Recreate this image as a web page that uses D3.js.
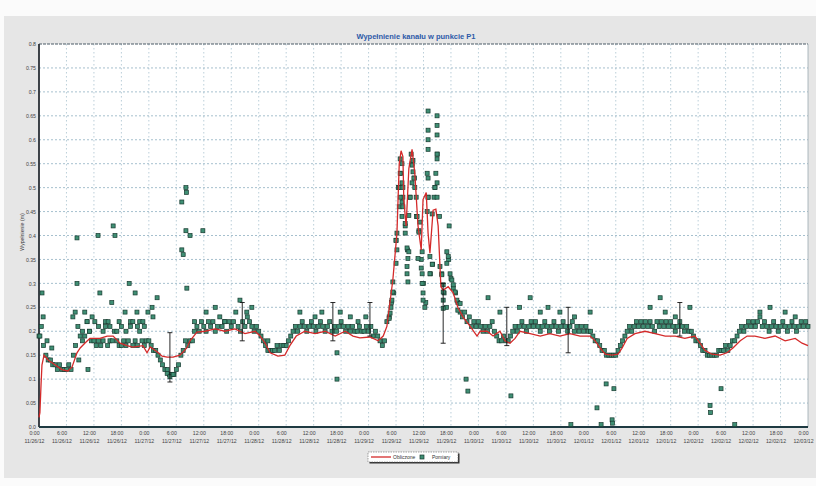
<!DOCTYPE html>
<html>
<head>
<meta charset="utf-8">
<script src="https://cdn.jsdelivr.net/npm/d3@7"></script>
<style>
  body { margin: 0; background: #fff; }
  svg { display: block; font-family: "Liberation Sans", Arial, sans-serif; }
</style>
</head>
<body>
<svg id="chart" width="816" height="486"></svg>
<script>
// time axis: 7 days, hours counted from the start
var startTime = new Date(2012, 10, 26, 0, 0);
var spanHours = 168;

var yTicks = [0, 0.05, 0.1, 0.15, 0.2, 0.25, 0.3, 0.35, 0.4, 0.45, 0.5, 0.55, 0.6, 0.65, 0.7, 0.75, 0.8];

// computed level ("Obliczone") - vertices, [hour, value]
var computed = [
  [0, 0.02], [0.2, 0.03], [0.45, 0.09], [0.65, 0.13], [1.1, 0.15], [2, 0.14], [3.5, 0.13], [5, 0.12],
  [6.3, 0.117], [7.2, 0.125], [8.3, 0.155], [9, 0.165], [10, 0.175], [11.1, 0.185], [13.3, 0.185],
  [14.9, 0.19], [16.2, 0.19], [17.7, 0.175], [19.2, 0.17], [20.5, 0.167], [22.7, 0.17], [23.6, 0.155],
  [24.3, 0.167], [25.8, 0.157], [26.9, 0.148], [28, 0.146], [29.3, 0.146], [30.8, 0.15], [32.3, 0.165],
  [33, 0.18], [34.5, 0.198], [36.3, 0.2], [38.5, 0.205], [40.6, 0.2], [42.8, 0.205], [45, 0.195],
  [47.2, 0.2], [48.3, 0.19], [49.4, 0.175], [50.5, 0.155], [52.2, 0.148], [53.7, 0.15], [54.8, 0.17],
  [56.2, 0.19], [58.1, 0.2], [60.3, 0.195], [62.5, 0.2], [64.7, 0.19], [66.9, 0.2], [68.6, 0.19],
  [70.1, 0.186], [72.3, 0.188], [74.1, 0.18], [75.2, 0.19], [76, 0.21], [77.3, 0.307], [78.2, 0.405],
  [78.7, 0.55], [79.1, 0.577], [79.5, 0.565], [79.7, 0.475], [80.2, 0.42], [80.8, 0.54], [81.5, 0.58],
  [82.1, 0.53], [82.8, 0.42], [83.5, 0.37], [83.9, 0.475], [84.6, 0.49], [85, 0.405], [85.4, 0.363],
  [86.1, 0.453], [86.7, 0.455], [87.2, 0.42], [87.8, 0.293], [88.3, 0.286], [89.4, 0.293], [90.5, 0.28],
  [91.5, 0.25], [92.6, 0.23], [94.2, 0.21], [95.7, 0.19], [96.4, 0.2], [97.9, 0.2], [99.2, 0.19],
  [100.7, 0.2], [101.8, 0.18], [102.9, 0.175], [104, 0.185], [105.1, 0.2], [107.3, 0.195], [109.5, 0.19],
  [111.6, 0.195], [113.8, 0.19], [116, 0.195], [118.2, 0.19], [120.4, 0.19], [121.5, 0.18], [122.6, 0.165],
  [123.7, 0.152], [125.2, 0.15], [126.5, 0.152], [127.4, 0.165], [128.5, 0.185], [130.2, 0.195],
  [132.4, 0.2], [134.6, 0.195], [136.8, 0.19], [139, 0.19], [141.1, 0.185], [143.3, 0.19], [144.4, 0.175],
  [145.5, 0.16], [147, 0.152], [148.8, 0.15], [150.3, 0.155], [151.6, 0.165], [153.2, 0.18], [154.7, 0.19],
  [156.4, 0.19], [158.6, 0.185], [160.8, 0.19], [163, 0.18], [165.2, 0.185], [166.7, 0.175], [168, 0.17]
];

// measured level ("Pomiary") - one reading every 30 minutes, one row = 6 hours
var measured = [
  0.19, 0.21, 0.17, 0.15, 0.14, 0.14, 0.13, 0.13, 0.12, 0.13, 0.12, 0.12,
  0.12, 0.13, 0.12, 0.15, 0.17, 0.21, 0.19, 0.18, 0.19, 0.22, 0.20, 0.18,
  0.18, 0.17, 0.18, 0.17, 0.18, 0.21, 0.17, 0.18, 0.18, 0.20, 0.18, 0.17,
  0.17, 0.18, 0.17, 0.18, 0.21, 0.17, 0.18, 0.17, 0.22, 0.18, 0.17, 0.18,
  0.18, 0.17, 0.16, 0.16, 0.15, 0.14, 0.13, 0.12, 0.12, 0.11, 0.11, 0.11,
  0.12, 0.13, 0.15, 0.16, 0.18, 0.17, 0.18, 0.18, 0.20, 0.21, 0.20, 0.22,
  0.21, 0.20, 0.22, 0.21, 0.22, 0.20, 0.21, 0.23, 0.21, 0.22, 0.20, 0.22,
  0.21, 0.22, 0.24, 0.21, 0.20, 0.22, 0.21, 0.23, 0.22, 0.21, 0.20, 0.21,
  0.20, 0.19, 0.18, 0.17, 0.16, 0.16, 0.16, 0.16, 0.17, 0.16, 0.17, 0.17,
  0.17, 0.18, 0.19, 0.20, 0.21, 0.20, 0.21, 0.22, 0.21, 0.20, 0.21, 0.22,
  0.21, 0.20, 0.21, 0.22, 0.21, 0.20, 0.21, 0.22, 0.20, 0.21, 0.20, 0.21,
  0.22, 0.21, 0.20, 0.21, 0.20, 0.21, 0.20, 0.20, 0.21, 0.20, 0.20, 0.21,
  0.20, 0.21, 0.19, 0.20, 0.19, 0.18, 0.17, 0.18, 0.22, 0.23, 0.26, 0.28,
  0.39, 0.50, 0.53, 0.48, 0.42, 0.37, 0.48, 0.55, 0.52, 0.44, 0.41, 0.35,
  0.30, 0.26, 0.48, 0.32, 0.34, 0.50, 0.57, 0.44, 0.32, 0.28, 0.25, 0.35,
  0.31, 0.29, 0.28, 0.26, 0.24, 0.23, 0.24, 0.22, 0.23, 0.21, 0.22, 0.21,
  0.22, 0.21, 0.20, 0.21, 0.20, 0.21, 0.22, 0.20, 0.19, 0.18, 0.18, 0.19,
  0.18, 0.18, 0.19, 0.20, 0.21, 0.20, 0.21, 0.22, 0.21, 0.20, 0.21, 0.22,
  0.21, 0.22, 0.21, 0.20, 0.21, 0.22, 0.21, 0.20, 0.21, 0.22, 0.21, 0.20,
  0.21, 0.22, 0.21, 0.20, 0.21, 0.22, 0.20, 0.21, 0.20, 0.21, 0.20, 0.21,
  0.20, 0.20, 0.19, 0.18, 0.18, 0.17, 0.16, 0.16, 0.15, 0.15, 0.15, 0.15,
  0.15, 0.16, 0.17, 0.18, 0.19, 0.20, 0.21, 0.20, 0.21, 0.22, 0.21, 0.22,
  0.21, 0.22, 0.21, 0.22, 0.21, 0.20, 0.22, 0.21, 0.22, 0.21, 0.22, 0.21,
  0.22, 0.21, 0.20, 0.21, 0.22, 0.21, 0.20, 0.21, 0.20, 0.20, 0.19, 0.18,
  0.18, 0.17, 0.16, 0.16, 0.15, 0.15, 0.15, 0.15, 0.15, 0.16, 0.16, 0.16,
  0.17, 0.16, 0.17, 0.18, 0.18, 0.19, 0.20, 0.21, 0.20, 0.21, 0.22, 0.21,
  0.22, 0.21, 0.22, 0.23, 0.21, 0.22, 0.21, 0.20, 0.21, 0.22, 0.21, 0.20,
  0.21, 0.22, 0.21, 0.20, 0.21, 0.22, 0.21, 0.20, 0.21, 0.22, 0.21, 0.22,
  0.21
];
var measuredStep = 0.5;

// extra measured readings (scatter and outliers), [hour, value]
var measuredExtra = [
  [0.2, 0.19], [0.66, 0.28], [0.9, 0.23], [1.75, 0.18], [2.8, 0.165],
  [7.4, 0.23], [7.9, 0.24], [8.3, 0.395], [8.3, 0.3], [8.7, 0.14], [9.5, 0.2], [10, 0.24], [10.5, 0.22],
  [10.7, 0.12], [11, 0.2], [11.6, 0.23], [12.2, 0.22], [12.9, 0.4], [13, 0.21], [13.3, 0.28], [14, 0.2],
  [14.5, 0.22], [15.1, 0.22], [15.5, 0.21], [15.9, 0.26], [16.2, 0.42], [16.6, 0.4], [17, 0.2], [17.5, 0.22],
  [18, 0.21], [18.8, 0.24], [19, 0.2], [19.7, 0.3], [20, 0.22], [20.5, 0.22], [21, 0.28], [21.4, 0.24],
  [21.5, 0.21], [22, 0.2], [22.7, 0.22], [23, 0.21], [23.8, 0.24], [24.7, 0.25], [24.9, 0.23], [25.8, 0.27],
  [28, 0.112], [28.6, 0.105], [29.3, 0.11],
  [31.2, 0.37], [31.2, 0.47], [32.1, 0.5], [32.2, 0.49], [32.1, 0.41], [33, 0.4], [32.3, 0.29], [31.5, 0.36],
  [35.8, 0.41], [34, 0.22],
  [36.5, 0.24], [38.5, 0.25], [40.6, 0.22], [43.9, 0.265], [45.4, 0.24], [46.5, 0.25], [50, 0.18],
  [57, 0.24], [60.3, 0.23], [61.8, 0.24], [65.1, 0.155], [65.1, 0.1], [65.8, 0.24], [68, 0.23], [69.7, 0.22],
  [71.4, 0.23],
  // first peak
  [76.5, 0.227], [76.7, 0.238], [76.9, 0.25], [77.1, 0.265], [77.3, 0.282], [77.3, 0.303], [78, 0.342],
  [78, 0.39], [78.2, 0.37], [78.2, 0.405], [78.7, 0.46], [78.7, 0.5], [78.9, 0.48], [78.9, 0.53], [78.9, 0.56],
  [79.3, 0.55], [79.3, 0.51], [79.3, 0.47], [79.3, 0.44], [79.5, 0.5], [79.5, 0.46], [80, 0.425], [80, 0.405],
  [80.4, 0.374], [80.4, 0.335], [80.4, 0.32], [80.6, 0.352], [80.6, 0.303],
  // second peak
  [80.8, 0.442], [80.8, 0.366], [81.1, 0.48], [81.3, 0.57], [81.5, 0.547], [81.5, 0.51], [81.7, 0.557],
  [81.7, 0.533], [81.9, 0.52], [82.1, 0.5], [82.4, 0.48], [82.6, 0.44], [82.8, 0.352], [83, 0.407],
  [83.2, 0.428], [83.5, 0.332], [83.7, 0.366], [83.7, 0.32], [83.7, 0.3], [83.9, 0.28], [83.9, 0.265],
  [84.3, 0.25],
  // highest readings
  [84.8, 0.53], [84.8, 0.45], [85, 0.66], [85, 0.62], [85, 0.6], [85, 0.58], [85, 0.52], [85, 0.48],
  [85.4, 0.356], [85.4, 0.32], [85.9, 0.445], [85.9, 0.34], [86.3, 0.48], [86.5, 0.5], [86.7, 0.53],
  [86.96, 0.65], [86.96, 0.63], [86.96, 0.61], [86.96, 0.57], [86.96, 0.56], [86.96, 0.51], [86.96, 0.48],
  [87.6, 0.335], [88, 0.318], [88.3, 0.297], [88.3, 0.282], [88.3, 0.265], [88.3, 0.248],
  [89.1, 0.366], [89.1, 0.342], [89.4, 0.356], [89.6, 0.42], [89.8, 0.32], [90.2, 0.307], [90.5, 0.297],
  [90.9, 0.282], [91.3, 0.265], [91.5, 0.244], [92, 0.258],
  // after the peak
  [93.3, 0.1], [93.7, 0.075], [98.1, 0.27], [100.7, 0.24], [103.1, 0.065], [105, 0.25], [107.3, 0.27],
  [109.5, 0.24], [111.2, 0.25], [113.8, 0.24], [116.2, 0.005], [117, 0.23], [120.4, 0.24], [121.9, 0.04],
  [122.8, 0.005], [123.9, 0.09], [125.2, 0.015], [125.3, 0.008], [125.6, 0.08],
  [133.5, 0.25], [135.7, 0.27], [136.8, 0.24], [139, 0.23], [142.2, 0.25],
  [146.6, 0.045], [146.7, 0.03], [149, 0.08], [152, 0.005],
  [157.5, 0.24], [159.7, 0.25], [163, 0.24], [165.2, 0.23]
];

// vertical error bars, [hour, low, high]
var errorBars = [
  [28.6, 0.094, 0.197], [44.4, 0.18, 0.26], [64.2, 0.18, 0.26], [72.3, 0.19, 0.26], [88.3, 0.175, 0.3],
  [102.2, 0.17, 0.25], [115.6, 0.155, 0.25], [140, 0.19, 0.26]
];

var titleText = "Wypełnienie kanału w punkcie P1";
var yTitle = "Wypełnienie (m)";
var legendLabels = ["Obliczone", "Pomiary"];

function hourDate(t) {
  return new Date(startTime.getTime() + t * 3600000);
}

var svg = d3.select("#chart");
var plotLeft = 39, plotRight = 808, plotTop = 44, plotBottom = 427;

var x = d3.scaleTime()
  .domain([startTime, hourDate(spanHours)])
  .range([plotLeft, plotRight]);
var y = d3.scaleLinear().domain([0, 0.8]).range([plotBottom, plotTop]);

// page background (scanned paper)
svg.append("rect").attr("width", 816).attr("height", 486).attr("fill", "#fbfbfb");
svg.append("rect").attr("x", 4).attr("y", 16).attr("width", 812).attr("height", 462).attr("fill", "#e6e6e6");

// plot area
svg.append("rect")
  .attr("x", plotLeft).attr("y", plotTop)
  .attr("width", plotRight - plotLeft).attr("height", plotBottom - plotTop)
  .attr("fill", "#fff");

// grid
var sixHours = x.ticks(d3.timeHour.every(6));
svg.append("g").selectAll("line")
  .data(sixHours.slice(1, -1))
  .join("line")
  .attr("x1", function(d) { return x(d); }).attr("x2", function(d) { return x(d); })
  .attr("y1", plotTop).attr("y2", plotBottom)
  .attr("stroke", "#a9c3cf").attr("stroke-width", 0.8).attr("stroke-dasharray", "1.5,2.5");

svg.append("g").selectAll("line")
  .data(yTicks.slice(1, -1))
  .join("line")
  .attr("x1", plotLeft).attr("x2", plotRight)
  .attr("y1", function(d) { return y(d); }).attr("y2", function(d) { return y(d); })
  .attr("stroke", "#8fb0c2").attr("stroke-width", 0.8).attr("stroke-dasharray", "2,2");

// border
svg.append("line").attr("x1", plotLeft).attr("x2", plotRight).attr("y1", plotTop).attr("y2", plotTop)
  .attr("stroke", "#4a5a66").attr("stroke-width", 1.2).attr("stroke-dasharray", "3,1");
svg.append("line").attr("x1", plotRight).attr("x2", plotRight).attr("y1", plotTop).attr("y2", plotBottom)
  .attr("stroke", "#9aa8b0").attr("stroke-width", 0.8);
svg.append("line").attr("x1", plotLeft).attr("x2", plotLeft).attr("y1", plotTop).attr("y2", plotBottom)
  .attr("stroke", "#2a2f36").attr("stroke-width", 1.8);
svg.append("line").attr("x1", plotLeft).attr("x2", plotRight).attr("y1", plotBottom).attr("y2", plotBottom)
  .attr("stroke", "#1e3a42").attr("stroke-width", 2);

// y axis labels
var yAxis = d3.axisLeft(y)
  .tickValues(yTicks)
  .tickSize(0)
  .tickPadding(3)
  .tickFormat(function(d) { return d === 0 ? "0.0" : String(d); });
var gy = svg.append("g").attr("transform", "translate(" + plotLeft + ",0)").call(yAxis);
gy.select(".domain").remove();
gy.selectAll("text").attr("font-size", 5.2).attr("fill", "#444").attr("font-family", "Liberation Sans, Arial, sans-serif");

svg.append("text")
  .attr("transform", "translate(24,232) rotate(-90)")
  .attr("text-anchor", "middle")
  .attr("font-size", 5.2).attr("fill", "#444")
  .text(yTitle);

// x axis labels, two lines each
var fmtTime = d3.timeFormat("%-H:%M"), fmtDate = d3.timeFormat("%m/%d/%y");
var xAxis = d3.axisBottom(x)
  .ticks(d3.timeHour.every(6))
  .tickSize(0)
  .tickFormat("");
var gx = svg.append("g").attr("transform", "translate(0," + plotBottom + ")").call(xAxis);
gx.select(".domain").remove();
gx.selectAll(".tick text").each(function(d) {
  var t = d3.select(this).attr("y", 0).attr("dy", null)
    .attr("font-size", 5.2).attr("fill", "#444")
    .attr("font-family", "Liberation Sans, Arial, sans-serif");
  t.append("tspan").attr("x", -5).attr("y", 8).text(fmtTime(d));
  t.append("tspan").attr("x", -5).attr("y", 15.5).text(fmtDate(d));
});

// computed line
var line = d3.line()
  .x(function(d) { return x(hourDate(d[0])); })
  .y(function(d) { return y(d[1]); });

// measured squares
var measuredPoints = measured.map(function(v, i) { return [i * measuredStep, v]; }).concat(measuredExtra);
var sq = 4;
svg.append("g").selectAll("rect")
  .data(measuredPoints)
  .join("rect")
  .attr("x", function(d) { return x(hourDate(d[0])) - sq / 2; })
  .attr("y", function(d) { return y(d[1]) - sq / 2; })
  .attr("width", sq).attr("height", sq)
  .attr("fill", "#3f8f74").attr("stroke", "#173a2f").attr("stroke-width", 0.7);

svg.append("path")
  .datum(computed)
  .attr("d", line)
  .attr("fill", "none")
  .attr("stroke", "#d42a2a").attr("stroke-width", 1.3);

// error bars
var eb = svg.append("g").attr("stroke", "#111").attr("stroke-width", 0.9);
errorBars.forEach(function(d) {
  var cx = x(hourDate(d[0]));
  eb.append("line").attr("x1", cx).attr("x2", cx).attr("y1", y(d[1])).attr("y2", y(d[2]));
  eb.append("line").attr("x1", cx - 2.5).attr("x2", cx + 2.5).attr("y1", y(d[1])).attr("y2", y(d[1]));
  eb.append("line").attr("x1", cx - 2.5).attr("x2", cx + 2.5).attr("y1", y(d[2])).attr("y2", y(d[2]));
});

// title
svg.append("text")
  .attr("x", 416).attr("y", 39)
  .attr("text-anchor", "middle")
  .attr("font-size", 7.5).attr("font-weight", "bold").attr("fill", "#2d5aa8")
  .text(titleText);

// legend
var lg = svg.append("g").attr("transform", "translate(368,452)");
lg.append("rect").attr("x", 1.5).attr("y", 1.5).attr("width", 90).attr("height", 10).attr("fill", "#333");
lg.append("rect").attr("width", 90).attr("height", 10).attr("fill", "#fff")
  .attr("stroke", "#666").attr("stroke-width", 0.6).attr("stroke-dasharray", "1.5,1");
lg.append("line").attr("x1", 3).attr("x2", 23).attr("y1", 5).attr("y2", 5)
  .attr("stroke", "#d42a2a").attr("stroke-width", 1.3);
lg.append("text").attr("x", 25).attr("y", 7).attr("font-size", 5).attr("fill", "#333").text(legendLabels[0]);
lg.append("rect").attr("x", 52).attr("y", 3).attr("width", 4).attr("height", 4)
  .attr("fill", "#3f8f74").attr("stroke", "#173a2f").attr("stroke-width", 0.7);
lg.append("text").attr("x", 64).attr("y", 7).attr("font-size", 5).attr("fill", "#333").text(legendLabels[1]);
</script>
</body>
</html>
